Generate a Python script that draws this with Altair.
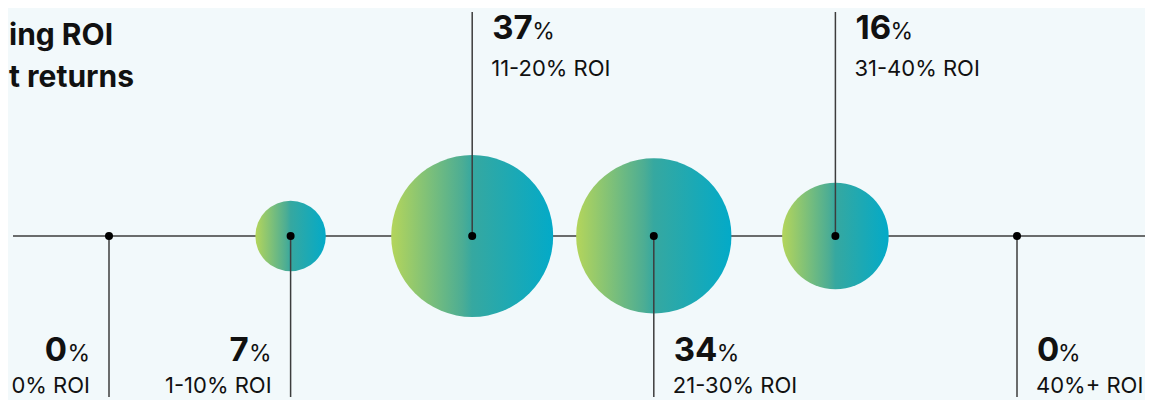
import altair as alt
import pandas as pd

# ---- data ----
categories = ["0% ROI", "1-10% ROI", "11-20% ROI", "21-30% ROI", "31-40% ROI", "40%+ ROI"]
shares = [0, 7, 37, 34, 16, 0]
label_pos = ["below", "below", "above", "below", "above", "below"]
label_side = ["left", "left", "right", "right", "right", "right"]
title_lines = ["ing ROI", "t returns"]

df = pd.DataFrame({
    "category": categories,
    "share": shares,
    "pos": label_pos,
    "side": label_side,
    "order": list(range(len(categories))),
})

FONT = "Inter"
INK = "#111111"
LINE = "#3d3d3d"
BG = "#f2f9fb"
NUM_SIZE = 33
PCT_SIZE = 23
ROI_SIZE = 22

xs = alt.X("order:Q", scale=alt.Scale(domain=[0, 5], range=[101, 1009]), axis=None)
yscale = alt.Scale(domain=[-0.719, 1], range=[389, 4])
ys = alt.Y("lvl:Q", scale=yscale, axis=None)

# approximate advance widths of the bold figures (px), to set the % sign after them
W = "(c == '1' ? 15 : c == '4' ? 23 : c == '0' ? 21 : 20)"
w1 = W.replace("c", "substring(datum.num, 0, 1)")
w2 = W.replace("c", "substring(datum.num, 1, 2)")

base = alt.Chart(df).transform_calculate(
    lvl="0",
    stem="datum.pos == 'above' ? 1 : -0.719",
    num="toString(datum.share)",
    pct="'%'",
).transform_calculate(
    pdx=f"20 + {w1} + (length(datum.num) > 1 ? {w2} : 0)"
)

baseline = alt.Chart(pd.DataFrame({"a": [0]})).transform_calculate(lvl="0").mark_rule(
    color=LINE, strokeWidth=1.5
).encode(x=alt.value(5), x2=alt.value(1142), y=ys)

grad = alt.LinearGradient(
    gradient="linear",
    stops=[
        alt.GradientStop(color="#b4d55b", offset=0),
        alt.GradientStop(color="#4cad94", offset=0.44),
        alt.GradientStop(color="#36a8a0", offset=0.5),
        alt.GradientStop(color="#03aac8", offset=1),
    ],
    x1=0, x2=1, y1=0, y2=0,
)

circles = base.mark_circle(fill=grad, opacity=1, strokeWidth=0).encode(
    x=xs,
    y=ys,
    size=alt.Size("share:Q", scale=alt.Scale(domain=[0, 37], range=[0, 26244]), legend=None),
)

stems = base.mark_rule(color=LINE, strokeWidth=1.5).encode(x=xs, y=ys, y2="stem:Q")

dots = base.mark_circle(color="black", size=64, opacity=1).encode(x=xs, y=ys)

dy_num = alt.expr("datum.pos == 'above' ? -197 : 125")
dy_roi = alt.expr("datum.pos == 'above' ? -160 : 157")

right = base.transform_filter("datum.side == 'right'")
left = base.transform_filter("datum.side == 'left'")

num_r = right.mark_text(align="left", baseline="alphabetic", font=FONT, fontSize=NUM_SIZE,
                        fontWeight=700, color=INK, dx=20, dy=dy_num).encode(
    x=xs, y=ys, text="num:N")
pct_r = right.mark_text(align="left", baseline="alphabetic", font=FONT, fontSize=PCT_SIZE,
                        color=INK, dx=alt.expr("datum.pdx"), dy=dy_num).encode(
    x=xs, y=ys, text="pct:N")
roi_r = right.mark_text(align="left", baseline="alphabetic", font=FONT, fontSize=ROI_SIZE,
                        color=INK, dx=19, dy=dy_roi).encode(
    x=xs, y=ys, text="category:N")

num_l = left.mark_text(align="right", baseline="alphabetic", font=FONT, fontSize=NUM_SIZE,
                       fontWeight=700, color=INK, dx=-42, dy=125).encode(
    x=xs, y=ys, text="num:N")
pct_l = left.mark_text(align="right", baseline="alphabetic", font=FONT, fontSize=PCT_SIZE,
                       color=INK, dx=-19, dy=125).encode(
    x=xs, y=ys, text="pct:N")
roi_l = left.mark_text(align="right", baseline="alphabetic", font=FONT, fontSize=ROI_SIZE,
                       color=INK, dx=-19, dy=157).encode(
    x=xs, y=ys, text="category:N")

t1 = alt.Chart(pd.DataFrame({"t": [title_lines[0]]})).mark_text(
    align="left", baseline="alphabetic", font=FONT, fontSize=30, fontWeight=700, color=INK
).encode(x=alt.value(1), y=alt.value(37), text="t:N")
t2 = alt.Chart(pd.DataFrame({"t": [title_lines[1]]})).mark_text(
    align="left", baseline="alphabetic", font=FONT, fontSize=30, fontWeight=700, color=INK
).encode(x=alt.value(1), y=alt.value(79), text="t:N")

chart = alt.layer(
    baseline, circles, stems, dots,
    num_r, pct_r, roi_r, num_l, pct_l, roi_l, t1, t2,
).properties(
    width=1137, height=392,
    autosize=alt.AutoSizeParams(type="none"),
    padding=0,
).configure(background=BG).configure_view(stroke=None, fill=BG)

chart.save("out.html", embed_options={"renderer": "svg", "actions": False})
